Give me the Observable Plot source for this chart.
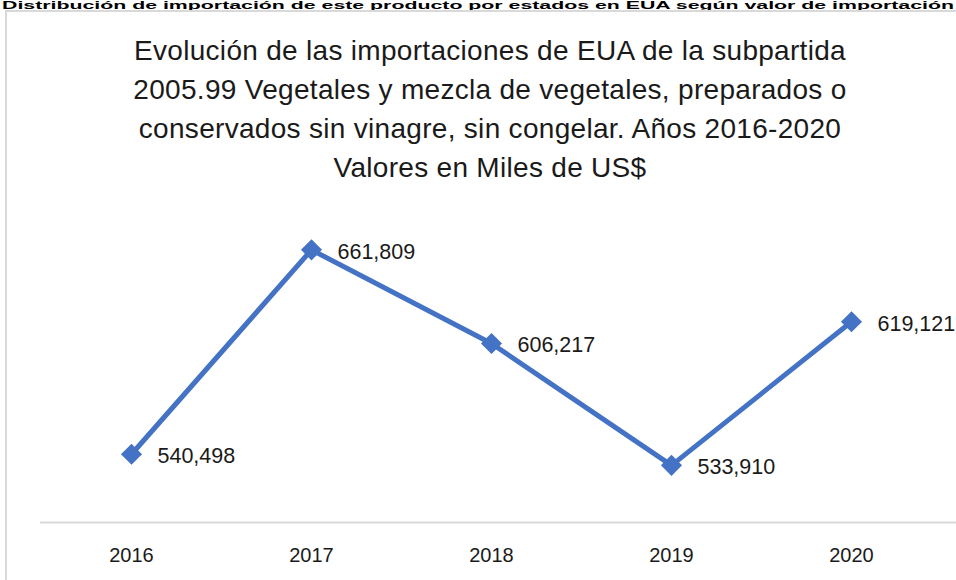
<!DOCTYPE html>
<html><head><meta charset="utf-8">
<script src="https://cdn.jsdelivr.net/npm/d3@7"></script>
<script src="https://cdn.jsdelivr.net/npm/@observablehq/plot@0.6"></script>
<style>
body{margin:0;background:#fff;}
#wrap{position:relative;width:956px;height:580px;overflow:hidden;font-family:"Liberation Sans",Arial,sans-serif;}
#top{position:absolute;left:0;top:0;}
#frame{position:absolute;left:5px;top:10px;width:1000px;height:620px;border:2px solid #d9d9d9;box-sizing:border-box;}
#title{position:absolute;left:0;top:31px;width:980px;text-align:center;font-size:28px;line-height:39px;letter-spacing:0.3px;color:#1a1a1a;}
#chart{position:absolute;left:0;top:0;}
</style></head>
<body><div id="wrap">
<svg id="top" width="956" height="10"><text x="2" y="8.5" textLength="952" lengthAdjust="spacingAndGlyphs" font-family="Liberation Sans, Arial, sans-serif" font-weight="bold" font-size="10" fill="#000">Distribución de importación de este producto por estados en EUA según valor de importación</text></svg>
<div id="frame"></div>
<div id="title">Evolución de las importaciones de EUA de la subpartida<br>2005.99 Vegetales y mezcla de vegetales, preparados o<br>conservados sin vinagre, sin congelar. Años 2016-2020<br>Valores en Miles de US$</div>
<div id="chart"></div>
</div>
<script>
const years = ["2016","2017","2018","2019","2020"];
const values = [540498, 661809, 606217, 533910, 619121];
const labels = ["540,498","661,809","606,217","533,910","619,121"];
const data = years.map((y,i)=>({year:y, value:values[i], label:labels[i]}));
const color = "#4472C4";
const plot = Plot.plot({
  width: 956, height: 580,
  marginTop: 185, marginBottom: 58, marginLeft: 40, marginRight: 0,
  style:{background:"transparent", fontFamily:"Liberation Sans, Arial, sans-serif", overflow:"visible"},
  x:{type:"point", domain: years, range:[130, 851], padding: 0, label:null},
  y:{domain:[500000,700000], axis:null},
  marks:[
    Plot.ruleY([500000], {stroke:"#d9d9d9", strokeWidth:2}),
    Plot.axisX({tickSize:0, tickPadding:25, fontSize:20, fill:"#1a1a1a", label:null}),
    Plot.line(data, {x:"year", y:"value", stroke:color, strokeWidth:5}),
    Plot.dot(data, {x:"year", y:"value", symbol:"diamond2", r:9.5, fill:color, stroke:"none"}),
    Plot.text(data, {x:"year", y:"value", text:"label", textAnchor:"start", dx:26, dy:2, fontSize:21.5, fill:"#1a1a1a"})
  ]
});
document.getElementById("chart").appendChild(plot);
</script>
</body></html>
